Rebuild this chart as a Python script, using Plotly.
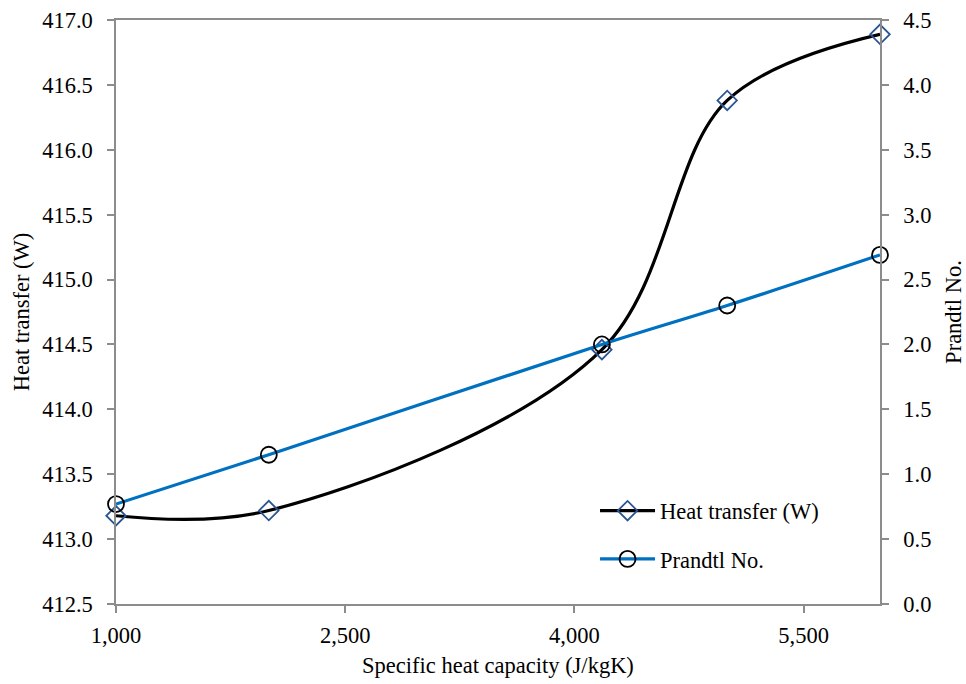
import plotly.graph_objects as go

# Specific heat capacity (J/kgK)
cp = [1000, 2000, 4180, 5000, 6000]
# Heat transfer (W)
heat_transfer = [413.18, 413.22, 414.46, 416.38, 416.89]
# Prandtl number
prandtl = [0.77, 1.15, 2.00, 2.30, 2.69]

x_ticks = [1000, 2500, 4000, 5500]
x_tick_text = ["1,000", "2,500", "4,000", "5,500"]

FONT = "Liberation Serif"
FS = 22.5
AXIS_GREY = "#8c8c8c"

fig = go.Figure()

fig.add_trace(go.Scatter(
    x=cp, y=heat_transfer, name="Heat transfer (W)",
    mode="lines+markers",
    line=dict(color="black", width=3.2, shape="spline", smoothing=1.0),
    marker=dict(symbol="diamond-open", size=15, color="#2a5592",
                line=dict(width=1.8, color="#2a5592")),
    cliponaxis=False, legendgroup="a", yaxis="y",
))

fig.add_trace(go.Scatter(
    x=cp, y=prandtl, name="Prandtl No.",
    mode="lines+markers",
    line=dict(color="#0070c0", width=3.2, shape="spline", smoothing=1.0),
    marker=dict(symbol="circle-open", size=16, color="black",
                line=dict(width=1.8, color="black")),
    cliponaxis=False, legendgroup="b", yaxis="y2",
))

axis_common = dict(
    showline=True, linecolor=AXIS_GREY, linewidth=1.5,
    ticks="outside", ticklen=7, tickcolor=AXIS_GREY, tickwidth=1.5,
    showgrid=False, zeroline=False, automargin=False,
    tickfont=dict(family=FONT, size=FS, color="black"),
)

fig.update_layout(
    width=966, height=684,
    margin=dict(l=116, r=86, t=20, b=80),
    paper_bgcolor="white", plot_bgcolor="white",
    font=dict(family=FONT, size=FS, color="black"),
    xaxis=dict(
        range=[1000, 6000], tickvals=x_ticks, ticktext=x_tick_text,
        mirror=True, ticklabelstandoff=3,
        title=dict(text="Specific heat capacity (J/kgK)",
                   font=dict(family=FONT, size=FS), standoff=10),
        **axis_common,
    ),
    yaxis=dict(
        range=[412.5, 417.0], dtick=0.5, tickformat=".1f",
        ticklabelstandoff=10,
        title=dict(text="Heat transfer (W)",
                   font=dict(family=FONT, size=FS), standoff=6),
        **axis_common,
    ),
    yaxis2=dict(
        range=[0, 4.5], dtick=0.5, tickformat=".1f",
        overlaying="y", side="right", ticklabelstandoff=10,
        title=dict(text="Prandtl No.",
                   font=dict(family=FONT, size=FS), standoff=18),
        **axis_common,
    ),
    legend=dict(
        x=0.627, y=0.196, xanchor="left", yanchor="top",
        bgcolor="rgba(0,0,0,0)", tracegroupgap=16, itemwidth=55,
        font=dict(family=FONT, size=FS),
    ),
    showlegend=True,
)

fig.write_html("out.html")
